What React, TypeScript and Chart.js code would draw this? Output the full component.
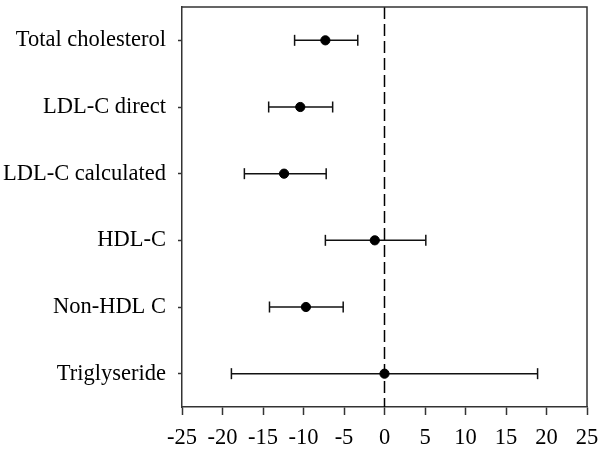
import React, { useEffect, useRef } from "react";
import { Chart, registerables } from "chart.js";

Chart.register(...registerables);

const categories = [
  "Total cholesterol",
  "LDL-C direct",
  "LDL-C calculated",
  "HDL-C",
  "Non-HDL C",
  "Triglyseride",
];
const estimates = [-7.3, -10.4, -12.4, -1.2, -9.7, 0.0];
const lowerCI = [-11.1, -14.3, -17.3, -7.3, -14.2, -18.9];
const upperCI = [-3.3, -6.4, -7.2, 5.1, -5.1, 18.9];
const xTicks = [-25, -20, -15, -10, -5, 0, 5, 10, 15, 20, 25];

const FONT = "'Liberation Serif', 'Times New Roman', serif";

const frame = {
  id: "frame",
  afterDraw(chart: any) {
    const { ctx, chartArea } = chart;
    ctx.save();
    ctx.strokeStyle = "#333";
    ctx.lineWidth = 1.5;
    ctx.beginPath();
    ctx.moveTo(chartArea.left, chartArea.top);
    ctx.lineTo(chartArea.right, chartArea.top);
    ctx.lineTo(chartArea.right, chartArea.bottom);
    ctx.stroke();
    ctx.restore();
  },
};

export default function App() {
  const ref = useRef<HTMLCanvasElement>(null);
  useEffect(() => {
    const errorSets = categories.map((_, i) => ({
      type: "line" as const,
      data: [
        { x: lowerCI[i], y: i },
        { x: upperCI[i], y: i },
      ],
      borderColor: "#111",
      borderWidth: 1.5,
      pointStyle: "line" as const,
      rotation: 90,
      pointRadius: 5.5,
      pointBorderWidth: 1.5,
      pointBorderColor: "#111",
    }));
    const chart = new Chart(ref.current!, {
      type: "scatter",
      data: {
        datasets: [
          {
            type: "scatter",
            data: estimates.map((v, i) => ({ x: v, y: i })),
            backgroundColor: "#000",
            borderColor: "#000",
            pointRadius: 4.6,
          },
          ...errorSets,
          {
            type: "line",
            data: [
              { x: 0, y: -0.5 },
              { x: 0, y: categories.length - 0.5 },
            ],
            borderColor: "#000",
            borderWidth: 1.5,
            borderDash: [12, 5],
            pointRadius: 0,
          },
        ] as any,
      },
      options: {
        animation: false,
        responsive: false,
        events: [],
        layout: { padding: { top: 4, right: 13, left: 0, bottom: 0 } },
        plugins: { legend: { display: false }, tooltip: { enabled: false } },
        scales: {
          x: {
            type: "linear",
            min: -25,
            max: 25,
            afterBuildTicks: (s: any) => {
              s.ticks = xTicks.map((v) => ({ value: v }));
            },
            afterFit: (s: any) => {
              s.height = 43;
              s.paddingLeft = 0;
              s.paddingRight = 0;
            },
            ticks: {
              color: "#000",
              font: { family: FONT, size: 22.5 },
              padding: 10,
              maxRotation: 0,
              autoSkip: false,
            },
            grid: {
              drawOnChartArea: false,
              tickLength: 8,
              color: "#333",
              tickWidth: 1.5,
            },
            border: { color: "#333", width: 1.5 },
          },
          y: {
            type: "linear",
            min: -0.5,
            max: categories.length - 0.5,
            reverse: true,
            afterBuildTicks: (s: any) => {
              s.ticks = categories.map((_, i) => ({ value: i }));
            },
            afterFit: (s: any) => {
              s.width = 182;
              s.paddingTop = 0;
              s.paddingBottom = 0;
            },
            ticks: {
              color: "#000",
              font: { family: FONT, size: 22.5 },
              padding: 12,
              autoSkip: false,
              callback: (v: any) => categories[v as number] ?? "",
            },
            grid: {
              drawOnChartArea: false,
              tickLength: 4,
              color: "#333",
              tickWidth: 1.5,
            },
            border: { color: "#333", width: 1.5 },
          },
        },
      },
      plugins: [frame],
    });
    return () => chart.destroy();
  }, []);
  return (
    <div style={{ position: "absolute", left: 0, top: 0, width: 600, height: 450, background: "#fff" }}>
      <canvas ref={ref} width={600} height={450} />
    </div>
  );
}
